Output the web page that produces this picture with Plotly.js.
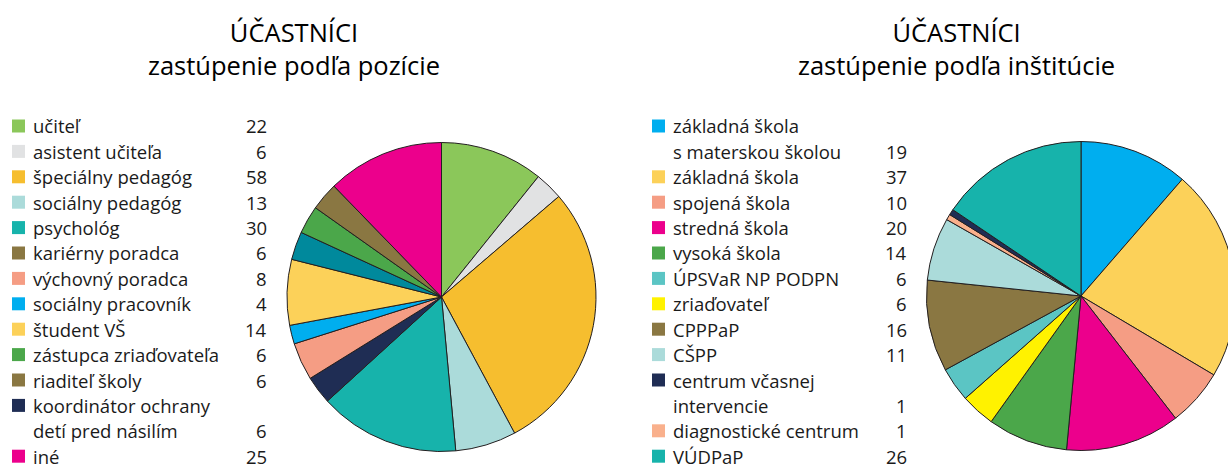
<!DOCTYPE html>
<html>
<head>
<meta charset="utf-8">
<script src="https://cdn.plot.ly/plotly-3.0.1.min.js"></script>
<style>
html,body{margin:0;padding:0;overflow:hidden;background:#fff;width:1228px;height:468px;}
#chart{width:1240px;height:468px;}
</style>
</head>
<body>
<div id="chart"></div>
<script>
// ---- Left chart: position ----
const posTitle = 'ÚČASTNÍCI<br>zastúpenie podľa pozície';
const posLabels = ['učiteľ','asistent učiteľa','špeciálny pedagóg','sociálny pedagóg','psychológ','kariérny poradca','výchovný poradca','sociálny pracovník','študent VŠ','zástupca zriaďovateľa','riaditeľ školy','koordinátor ochrany\ndetí pred násilím','iné'];
const posValues = [22,6,58,13,30,6,8,4,14,6,6,6,25];
const posLegendColors = ['#8BC75A','#E1E2E3','#F6BE2F','#ABDBDA','#17B3AB','#8A7742','#F59D84','#00AEEF','#FCD159','#4BA74A','#8A7742','#1F2D54','#EC008C'];
const posPieOrder = [0,1,2,3,4,11,6,7,8,5,9,10,12];
const posPieColors = ['#8BC75A','#E1E2E3','#F6BE2F','#ABDBDA','#17B3AB','#00899C','#F59D84','#00AEEF','#FCD159','#4BA74A','#8A7742','#1F2D54','#EC008C'];

// ---- Right chart: institution ----
const instTitle = 'ÚČASTNÍCI<br>zastúpenie podľa inštitúcie';
const instLabels = ['základná škola\ns materskou školou','základná škola','spojená škola','stredná škola','vysoká škola','ÚPSVaR NP PODPN','zriaďovateľ','CPPPaP','CŠPP','centrum včasnej\nintervencie','diagnostické centrum','VÚDPaP'];
const instValues = [19,37,10,20,14,6,6,16,11,1,1,26];
const instColors = ['#00AEEF','#FCD159','#F59D84','#EC008C','#4BA74A','#5BC5C4','#FFF200','#8A7742','#ABDBDA','#1F2D54','#F9B08C','#17B3AB'];
const instPieOrder = [0,1,2,3,4,6,5,7,8,10,9,11];

const W = 1240, H = 468;
const px = x => x / W;
const py = y => 1 - y / H;
const FONT = '"Open Sans", Lato, sans-serif';

function pieTrace(labels, values, colors, order, cx, cy, r) {
  return {
    type: 'pie',
    labels: order.map(i => labels[i].replace('\n', ' ')),
    values: order.map(i => values[i]),
    marker: {colors: order.map(i => colors[i]), line: {color: '#231F20', width: 1}},
    sort: false,
    direction: 'clockwise',
    rotation: 0,
    textinfo: 'none',
    hoverinfo: 'label+value',
    showlegend: false,
    domain: {x: [px(cx - r), px(cx + r)], y: [py(cy + r), py(cy - r)]}
  };
}

const annotations = [];
const shapes = [];

function legend(labels, values, colors, x0, xVal, y0, step) {
  let row = 0;
  labels.forEach((lab, i) => {
    const lines = lab.split('\n');
    const yFirst = y0 + row * step;
    shapes.push({type: 'rect', xref: 'paper', yref: 'paper',
      x0: px(x0), x1: px(x0 + 13), y0: py(yFirst + 6.5), y1: py(yFirst - 6.5),
      fillcolor: colors[i], line: {width: 0}});
    lines.forEach((ln, k) => {
      const y = y0 + (row + k) * step;
      annotations.push({xref: 'paper', yref: 'paper', x: px(x0 + 19), y: py(y),
        xanchor: 'left', yanchor: 'middle', text: ln, showarrow: false,
        font: {family: FONT, size: 18.5, color: '#1a1a1a'}});
    });
    const yLast = y0 + (row + lines.length - 1) * step;
    annotations.push({xref: 'paper', yref: 'paper', x: px(xVal), y: py(yLast),
      xanchor: 'right', yanchor: 'middle', text: String(values[i]), showarrow: false,
      font: {family: FONT, size: 18.5, color: '#1a1a1a'}});
    row += lines.length;
  });
}

legend(posLabels, posValues, posLegendColors, 12, 269, 126, 25.4);
legend(instLabels, instValues, instColors, 652, 909, 126, 25.4);

function title(text, cx) {
  annotations.push({xref: 'paper', yref: 'paper', x: px(cx), y: py(49), xanchor: 'center', yanchor: 'middle',
    text: text, showarrow: false, align: 'center',
    font: {family: FONT, size: 25.5, color: '#000'}});
}
title(posTitle, 294);
title(instTitle, 956);

const data = [
  pieTrace(posLabels, posValues, posPieColors, posPieOrder, 441.5, 297, 154.5),
  pieTrace(instLabels, instValues, instColors, instPieOrder, 1081, 296, 154.5)
];

Plotly.newPlot('chart', data, {
  width: W, height: H,
  margin: {l: 0, r: 0, t: 0, b: 0},
  paper_bgcolor: '#fff',
  annotations: annotations,
  shapes: shapes
}, {displayModeBar: false, staticPlot: true});
</script>
</body>
</html>
